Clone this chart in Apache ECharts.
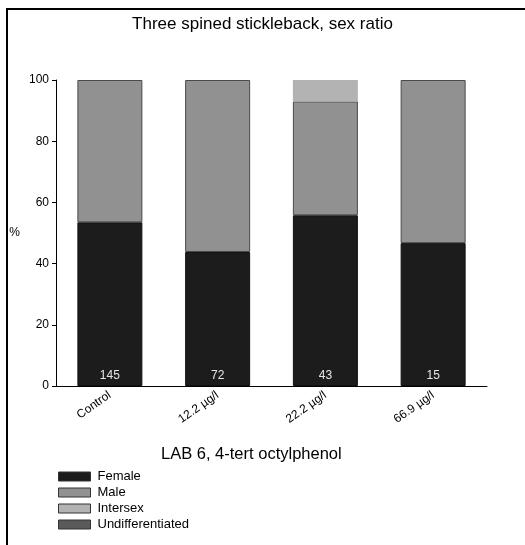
<!DOCTYPE html>
<html>
<head>
<meta charset="utf-8">
<script src="https://cdn.jsdelivr.net/npm/echarts@6/dist/echarts.min.js"></script>
<style>
html,body{margin:0;padding:0;background:#fff;}
#chart{width:525px;height:545px;}
</style>
</head>
<body>
<div id="chart"></div>
<script>
var categories = ['Control', '12.2 \u00b5g/l', '22.2 \u00b5g/l', '66.9 \u00b5g/l'];
var female = [53.5, 43.8, 55.8, 46.7];
var male = [46.5, 56.2, 37.2, 53.3];
var intersex = [0, 0, 7.0, 0];
var undifferentiated = [0, 0, 0, 0];
var sampleSizes = [145, 72, 43, 15];
var yTicks = [0, 20, 40, 60, 80, 100];

var FONT = 'Liberation Sans, Arial, sans-serif';
var chart = echarts.init(document.getElementById('chart'), null, {renderer: 'canvas'});

function barSeries(name, data, color, extra) {
  var s = {
    name: name,
    type: 'bar',
    stack: 'total',
    data: data,
    barWidth: 65,
    itemStyle: {color: color, borderColor: '#4a4a4a', borderWidth: 1},
    emphasis: {disabled: true}
  };
  for (var k in extra) s[k] = extra[k];
  return s;
}

var option = {
  animation: false,
  textStyle: {fontFamily: FONT},
  title: {
    text: 'Three spined stickleback, sex ratio',
    left: 'center',
    top: 11,
    textStyle: {fontFamily: FONT, fontSize: 17, fontWeight: 'normal', color: '#000'}
  },
  grid: {left: 56, right: 38, top: 80, bottom: 159, containLabel: false},
  legend: {
    orient: 'vertical',
    left: 53,
    top: 465,
    itemWidth: 32,
    itemHeight: 9,
    itemGap: 3,
    icon: 'rect',
    data: ['Female', 'Male', 'Intersex', 'Undifferentiated'],
    textStyle: {fontFamily: FONT, fontSize: 13, color: '#000', padding: [0, 0, 0, 2]},
    itemStyle: {borderColor: '#333', borderWidth: 1}
  },
  xAxis: {
    type: 'category',
    data: categories,
    axisLine: {show: true, lineStyle: {color: '#000', width: 1}},
    axisTick: {show: false},
    axisLabel: {rotate: 35, color: '#000', fontSize: 12, fontFamily: FONT, margin: 8}
  },
  yAxis: {
    type: 'value',
    min: yTicks[0],
    max: yTicks[yTicks.length - 1],
    interval: yTicks[1] - yTicks[0],
    name: '%',
    nameLocation: 'middle',
    nameRotate: 0,
    nameGap: 36,
    nameTextStyle: {fontFamily: FONT, fontSize: 12, color: '#000'},
    splitLine: {show: false},
    axisLine: {show: true, lineStyle: {color: '#000', width: 1}},
    axisTick: {show: true, length: 4, lineStyle: {color: '#000'}},
    axisLabel: {color: '#000', fontSize: 12, fontFamily: FONT, margin: 7}
  },
  graphic: [
    {type: 'polyline', silent: true,
     shape: {points: [[7, 545], [7, 9], [525, 9]]},
     style: {stroke: '#000', lineWidth: 2, fill: null}},
    {type: 'text', silent: true, left: 161, top: 446,
     style: {text: 'LAB 6, 4-tert octylphenol', font: '16.5px ' + FONT, fill: '#000'}}
  ],
  series: [
    barSeries('Female', female, '#1c1c1c', {
      itemStyle: {color: '#1c1c1c', borderColor: '#111', borderWidth: 1},
      label: {
        show: true,
        position: 'insideBottom',
        distance: 4,
        color: '#e6e6e6',
        fontSize: 12,
        fontFamily: FONT,
        formatter: function (p) { return sampleSizes[p.dataIndex]; }
      }
    }),
    barSeries('Male', male, '#919191', {}),
    barSeries('Intersex', intersex, '#b3b3b3', {
      itemStyle: {color: '#b3b3b3', borderColor: '#4a4a4a', borderWidth: 0}
    }),
    barSeries('Undifferentiated', undifferentiated, '#5a5a5a', {
      itemStyle: {color: '#5a5a5a', borderColor: '#4a4a4a', borderWidth: 0}
    })
  ]
};
chart.setOption(option);
</script>
</body>
</html>
